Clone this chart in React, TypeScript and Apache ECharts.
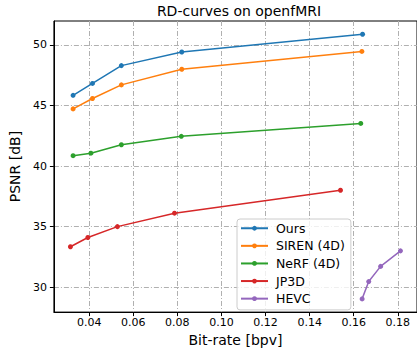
import React, { useEffect, useRef } from "react";
import * as echarts from "echarts";

const seriesNames = ["Ours", "SIREN (4D)", "NeRF (4D)", "JP3D", "HEVC"];
const colors = ["#1f77b4", "#ff7f0e", "#2ca02c", "#d62728", "#9467bd"];

const oursX = [0.0327, 0.0415, 0.0546, 0.082, 0.164];
const oursY = [45.83, 46.81, 48.28, 49.4, 50.87];
const sirenX = [0.0327, 0.0415, 0.0546, 0.082, 0.1637];
const sirenY = [44.71, 45.57, 46.69, 47.98, 49.45];
const nerfX = [0.0327, 0.0408, 0.0546, 0.0818, 0.1632];
const nerfY = [40.85, 41.06, 41.75, 42.45, 43.51];
const jp3dX = [0.0315, 0.0394, 0.0528, 0.0787, 0.154];
const jp3dY = [33.34, 34.1, 35.0, 36.11, 38.0];
const hevcX = [0.1638, 0.1668, 0.1722, 0.1812];
const hevcY = [29.04, 30.47, 31.72, 33.0];

const xTicks = [0.04, 0.06, 0.08, 0.1, 0.12, 0.14, 0.16, 0.18];
const yTicks = [30, 35, 40, 45, 50];

const allX = [oursX, sirenX, nerfX, jp3dX, hevcX];
const allY = [oursY, sirenY, nerfY, jp3dY, hevcY];

const FONT = "DejaVu Sans";

export default function App() {
  const ref = useRef<HTMLDivElement>(null);
  useEffect(() => {
    if (!ref.current) return;
    const chart = echarts.init(ref.current, null, { renderer: "svg" });
    const gridLine = { show: true, lineStyle: { color: "#b0b0b0", width: 1, type: [5, 2, 1, 2] } };
    chart.setOption({
      animation: false,
      backgroundColor: "#ffffff",
      textStyle: { fontFamily: FONT },
      title: {
        text: "RD-curves on openfMRI",
        left: 234,
        textAlign: "center",
        top: -1,
        textStyle: { fontFamily: FONT, fontSize: 14, fontWeight: "normal", color: "#000" },
      },
      grid: {
        left: 50,
        top: 21,
        right: -3,
        bottom: 37,
        show: true,
        borderColor: "#000",
        borderWidth: 1,
        backgroundColor: "transparent",
      },
      legend: {
        orient: "vertical",
        left: 237,
        top: 219,
        data: seriesNames,
        itemWidth: 27,
        itemHeight: 6,
        itemGap: 3.1,
        padding: [2, 6, 4, 3],
        backgroundColor: "rgba(255,255,255,0.8)",
        borderColor: "#cccccc",
        borderWidth: 1,
        borderRadius: 3,
        textStyle: { fontFamily: FONT, fontSize: 12.5, color: "#000", lineHeight: 14.5, padding: [0, 0, 0, 3] },
      },
      xAxis: {
        type: "value",
        min: 0.024,
        max: 0.1887,
        name: "Bit-rate [bpv]",
        nameLocation: "middle",
        nameGap: 15,
        nameTextStyle: { fontFamily: FONT, fontSize: 14, color: "#000" },
        axisLine: { show: true, lineStyle: { color: "#000", width: 1 } },
        axisTick: { show: true, inside: false, length: 4, lineStyle: { color: "#000" }, customValues: xTicks },
        axisLabel: {
          fontFamily: FONT,
          fontSize: 11,
          color: "#000",
          margin: 5,
          customValues: xTicks,
          formatter: (v: number) => v.toFixed(2),
        },
        splitLine: gridLine,
      },
      yAxis: {
        type: "value",
        min: 27.95,
        max: 51.96,
        name: "PSNR [dB]",
        nameLocation: "middle",
        nameGap: 19,
        nameTextStyle: { fontFamily: FONT, fontSize: 14, color: "#000" },
        axisLine: { show: true, lineStyle: { color: "#000", width: 1 } },
        axisTick: { show: true, inside: false, length: 4, lineStyle: { color: "#000" }, customValues: yTicks },
        axisLabel: {
          fontFamily: FONT,
          fontSize: 11,
          color: "#000",
          margin: 7,
          customValues: yTicks,
          formatter: (v: number) => String(Math.round(v)),
        },
        splitLine: gridLine,
      },
      series: seriesNames.map((name, i) => ({
        name,
        type: "line",
        data: allX[i].map((x, j) => [x, allY[i][j]]),
        symbol: "circle",
        symbolSize: 5,
        showSymbol: true,
        itemStyle: { color: colors[i] },
        lineStyle: { color: colors[i], width: 1.5 },
        z: 3,
      })),
    });
    return () => chart.dispose();
  }, []);
  return <div ref={ref} style={{ width: 417, height: 352, position: "absolute", left: 0, top: 0 }} />;
}
